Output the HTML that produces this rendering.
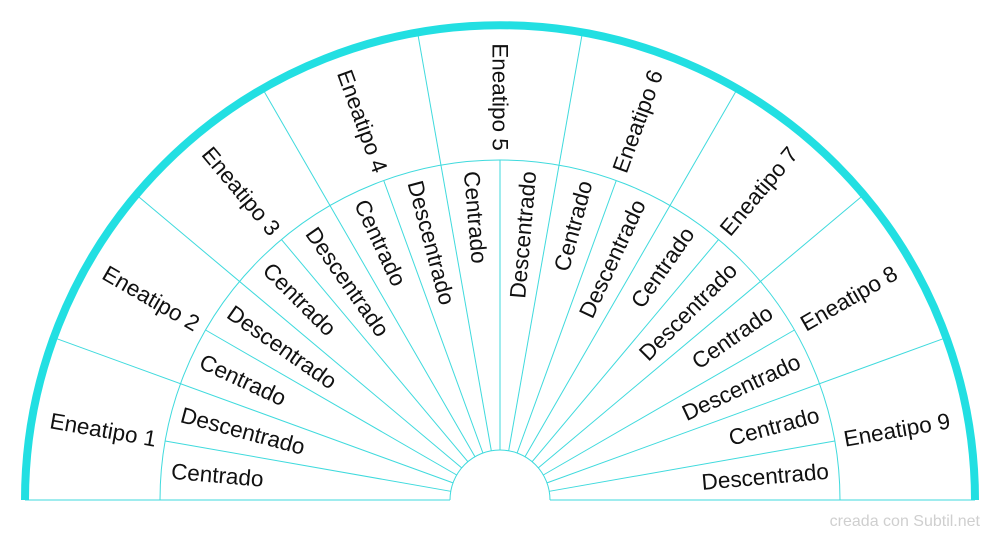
<!DOCTYPE html>
<html><head><meta charset="utf-8"><style>
html,body{margin:0;padding:0;background:#fff;}
svg{display:block;font-family:"Liberation Sans",sans-serif;}
</style></head><body>
<svg id="s" width="1000" height="540" viewBox="0 0 1000 540" xmlns="http://www.w3.org/2000/svg">
<text x="980" y="526" text-anchor="end" font-size="16" fill="#cfcfcf">creada con Subtil.net</text>
</svg>
<script>
var s=document.getElementById('s'),NS='http://www.w3.org/2000/svg';
function el(t,a,txt){var e=document.createElementNS(NS,t);for(var k in a)e.setAttribute(k,a[k]);if(txt)e.textContent=txt;s.appendChild(e);return e;}
var cx=500,cy=500,C='#3fdadd';
function pt(r,a){var rad=a*Math.PI/180;return [cx+r*Math.cos(rad),cy-r*Math.sin(rad)];}
for(var i=0;i<=18;i++){var a=i*10;var r2=(i%2==0)?475:340;var p1=pt(50,a),p2=pt(r2,a);
el('line',{x1:p1[0],y1:p1[1],x2:p2[0],y2:p2[1],stroke:C,'stroke-width':1});}
el('path',{d:'M160 500 A340 340 0 0 1 840 500',fill:'none',stroke:C,'stroke-width':1});
el('path',{d:'M450 500 A50 50 0 0 1 550 500',fill:'none',stroke:C,'stroke-width':1});
el('line',{x1:25,y1:500,x2:450,y2:500,stroke:C,'stroke-width':1});
el('line',{x1:550,y1:500,x2:975,y2:500,stroke:C,'stroke-width':1});
el('path',{d:'M25 500 A475 475 0 0 1 975 500',fill:'none',stroke:'#22dfe2','stroke-width':8});
function rot(a){return a>=90?180-a:-a;}
for(var k=1;k<=9;k++){
 var a=180-20*(k-1)-10;var p=pt(403,a);
 el('text',{x:p[0],y:p[1],'text-anchor':'middle','dominant-baseline':'central','font-size':22.5,fill:'#111',transform:'rotate('+rot(a)+' '+p[0]+' '+p[1]+')'},'Eneatipo '+k);
 for(var j=0;j<2;j++){var b=180-20*(k-1)-5-10*j;var q=pt(330,b);
  el('text',{x:q[0],y:q[1],'text-anchor':b>=90?'start':'end','dominant-baseline':'central','font-size':22.5,fill:'#111',transform:'rotate('+rot(b)+' '+q[0]+' '+q[1]+')'},j==0?'Centrado':'Descentrado');}
}
</script>
</body></html>
